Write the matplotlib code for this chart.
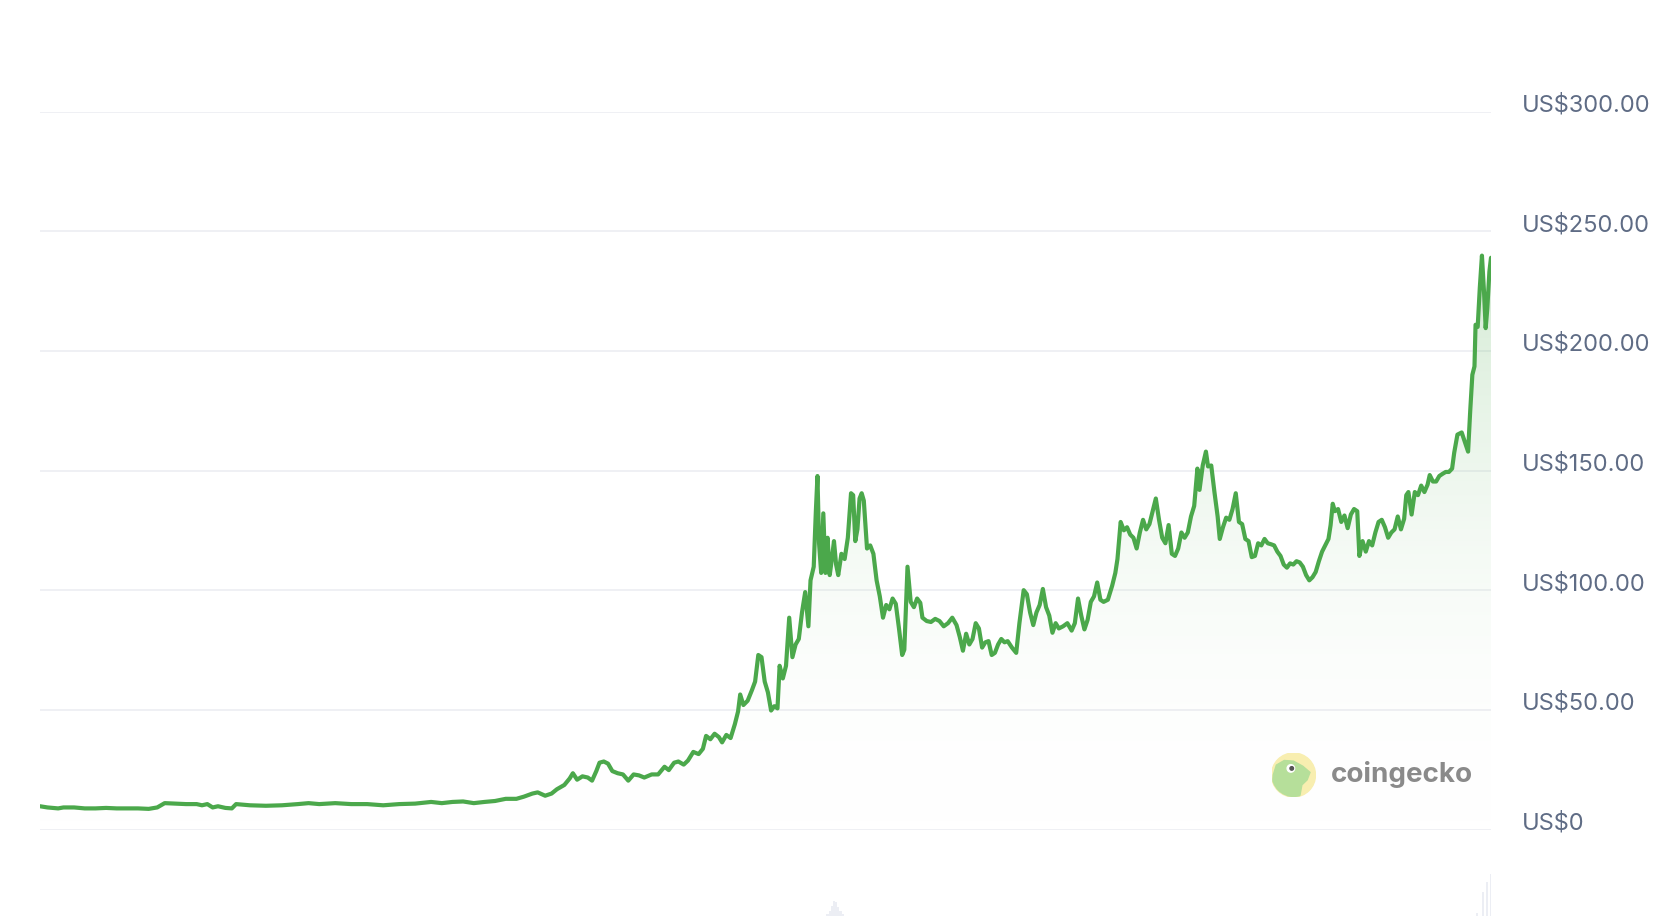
import numpy as np
import matplotlib.pyplot as plt
import matplotlib.transforms as mtransforms
from matplotlib.colors import LinearSegmentedColormap
from matplotlib.patches import Circle, Polygon

# price history (days from start, USD)
day = [0, 7, 17, 22, 32, 42, 52, 62, 72, 82, 92, 102, 110, 117, 127, 137, 147, 152, 157,
       162, 167, 174, 180, 184, 197, 212, 227, 242, 252, 262, 277, 292, 307, 322, 337, 352,
       367, 377, 387, 397, 407, 417, 427, 437, 447, 454, 462, 467, 474, 480, 485, 492, 497,
       500, 504, 509, 514, 518, 522, 525, 529, 533, 537, 542, 547, 552, 557, 562, 567, 574,
       580, 586, 590, 595, 599, 604, 608, 613, 618, 622, 625, 629, 633, 637, 640, 644, 648,
       652, 655, 657, 660, 664, 668, 671, 674, 677, 680, 683, 686, 689, 692, 694, 697, 700,
       703, 706, 709, 712, 715, 718, 721, 723, 726, 728, 729.5, 731, 733, 735, 737, 739, 741,
       743, 745, 747, 749, 752, 755, 758, 761, 763, 765, 767, 769, 771, 773, 776, 779, 782,
       785, 788, 791, 794, 797, 800, 803, 806, 809, 811, 814, 817, 820, 823, 826, 828, 832,
       836, 840, 844, 848, 852, 856, 860, 863, 866, 869, 872, 875, 878, 881, 884, 887, 890,
       893, 896, 899, 902, 905, 908, 912, 916, 919, 923, 926, 929, 932, 935, 938, 941, 944,
       947, 950, 953, 956, 960, 964, 968, 971, 974, 977, 980, 983, 986, 989, 992, 995, 998,
       1002, 1006, 1009, 1011, 1014, 1017, 1020, 1023, 1026, 1029, 1032, 1035, 1038, 1041,
       1044, 1047, 1050, 1053, 1056, 1059, 1062, 1065, 1068, 1071, 1074, 1077, 1080, 1083,
       1086, 1088, 1091, 1094, 1096, 1099, 1102, 1105, 1107, 1110, 1113, 1116, 1119, 1122,
       1125, 1128, 1131, 1134, 1137, 1140, 1143, 1146, 1149, 1152, 1155, 1158, 1161, 1164,
       1167, 1170, 1173, 1176, 1179, 1182, 1185, 1188, 1191, 1194, 1197, 1200, 1203, 1206,
       1209, 1211, 1213, 1215, 1218, 1221, 1224, 1227, 1230, 1233, 1236, 1238, 1241, 1244,
       1247, 1250, 1253, 1256, 1259, 1262, 1265, 1268, 1271, 1274, 1277, 1280, 1282, 1284,
       1287, 1290, 1293, 1296, 1299, 1302, 1304, 1307, 1310, 1313, 1316, 1319, 1322, 1325,
       1327, 1330, 1334, 1337, 1340, 1342, 1344, 1346, 1347, 1349, 1351, 1353, 1355, 1356.5,
       1358, 1360, 1361.5]
price = [9.8, 9.3, 8.9, 9.3, 9.3, 8.9, 8.9, 9.1, 8.9, 8.9, 8.9, 8.7, 9.3, 11.1, 10.9, 10.7,
         10.7, 10.2, 10.7, 9.3, 9.8, 9.1, 8.9, 10.7, 10.2, 10.0, 10.2, 10.7, 11.1, 10.7, 11.1,
         10.7, 10.7, 10.2, 10.7, 10.9, 11.6, 11.1, 11.6, 11.8, 11.1, 11.6, 12.0, 12.9, 12.9,
         13.8, 15.1, 15.6, 14.2, 15.1, 16.9, 18.7, 21.4, 23.6, 20.9, 22.3, 21.8, 20.5, 24.5,
         28.0, 28.5, 27.6, 24.5, 23.6, 23.1, 20.5, 23.1, 22.7, 21.8, 23.1, 23.1, 26.3, 24.9,
         28.0, 28.5, 27.2, 28.9, 32.5, 31.6, 33.8, 39.2, 37.8, 40.1, 38.7, 36.5, 39.6, 38.3,
         44.1, 49.4, 56.5, 52.1, 53.9, 58.3, 61.9, 73.0, 72.1, 61.9, 57.4, 49.8, 51.6, 50.7,
         68.5, 63.2, 68.5, 88.6, 72.1, 77.4, 79.7, 90.8, 99.3, 85.0, 104.2, 109.9, 133.1,
         147.8, 119.7, 107.3, 132.2, 107.3, 122.0, 106.4, 113.1, 120.6, 110.8, 106.4, 115.3,
         113.1, 122.0, 140.6, 139.8, 120.6, 125.5, 138.4, 140.6, 137.5, 117.5, 118.8, 115.3,
         104.2, 97.5, 88.6, 93.9, 92.1, 96.6, 94.4, 84.1, 73.0, 75.2, 109.9, 95.2, 93.0, 96.6,
         94.8, 88.6, 87.2, 86.8, 88.1, 87.2, 85.0, 86.3, 88.6, 85.5, 80.6, 74.8, 81.9, 77.4,
         79.7, 86.3, 84.1, 76.1, 78.3, 78.8, 73.0, 73.9, 77.4, 79.7, 78.3, 78.8, 76.1, 73.9,
         86.3, 100.1, 98.4, 90.8, 85.5, 90.8, 93.9, 100.6, 93.0, 89.5, 82.3, 86.3, 84.1, 85.0,
         86.3, 83.2, 86.3, 96.6, 89.5, 83.7, 87.7, 95.2, 97.5, 103.3, 96.1, 95.2, 96.1, 101.9,
         107.3, 113.1, 128.6, 125.1, 126.4, 123.3, 122.0, 117.5, 124.2, 129.5, 125.5, 127.7,
         133.1, 138.4, 129.5, 122.0, 119.7, 127.3, 115.3, 114.4, 117.5, 124.2, 122.0, 124.2,
         130.9, 135.3, 150.9, 142.0, 152.2, 158.0, 151.8, 152.2, 141.1, 130.9, 121.5, 126.4,
         130.4, 129.5, 134.0, 140.6, 128.6, 127.7, 121.5, 120.6, 113.9, 114.4, 119.7, 118.8,
         121.5, 119.7, 119.3, 118.8, 116.2, 114.4, 110.8, 109.5, 111.3, 110.8, 112.2, 111.7,
         109.9, 106.4, 104.2, 105.5, 107.7, 112.2, 116.2, 118.8, 121.5, 127.3, 136.2, 133.1,
         134.0, 128.6, 131.3, 126.0, 131.7, 134.0, 133.1, 114.4, 120.6, 116.2, 120.6, 118.8,
         124.2, 128.6, 129.5, 126.4, 122.0, 124.2, 125.5, 130.9, 125.5, 129.9, 139.8, 141.1,
         131.7, 141.1, 139.8, 143.8, 141.1, 144.2, 148.2, 145.5, 145.5, 147.8, 148.7, 149.5,
         149.5, 150.9, 157.6, 165.1, 166.0, 162.0, 158.0, 175.0, 190.1, 193.6, 211.0, 210.1,
         226.5, 239.9, 224.3, 209.6, 217.6, 233.2, 239.0]

# the few volume bars that show above the bottom edge
vol_day = [739, 741, 743, 745, 747, 749, 751, 753, 1348.6, 1354, 1358, 1361.7]
vol_value = [2, 5, 10, 15, 14, 9, 5, 2, 3, 24, 34, 42]

tick_values = [0, 50, 100, 150, 200, 250, 300]
tick_labels = ['US$0', 'US$50.00', 'US$100.00', 'US$150.00', 'US$200.00', 'US$250.00', 'US$300.00']

W, H = 1670, 916
fig = plt.figure(figsize=(W / 100, H / 100), dpi=100)
fig.patch.set_facecolor('white')

y0, y300 = 829.7, 111.8
ax = fig.add_axes([40 / W, 1 - y0 / H, 1451 / W, (y0 - y300) / H])
ax.axis('off')

for v in tick_values:
    ax.axhline(v, color='#eeeff3', lw=1.3, zorder=0)

# gradient fill under the line
fill = ax.fill_between(day, price, 0, color='none', lw=0)
grad = np.linspace(0, 1, 256).reshape(-1, 1)
cmap = LinearSegmentedColormap.from_list('g', [(1, 1, 1, 0), (0.36, 0.70, 0.36, 0.27)])
im = ax.imshow(grad, extent=[0, max(day), 0, max(price)], origin='lower',
               aspect='auto', cmap=cmap, zorder=1, interpolation='bilinear')
im.set_clip_path(fill.get_paths()[0], transform=ax.transData)

ax.plot(day, price, color='#4ba84b', lw=3.0, solid_joinstyle='round',
        solid_capstyle='round', zorder=3)

ax.set_xlim(0, max(day))
ax.set_ylim(0, 300)

# right-hand price labels
trans = mtransforms.blended_transform_factory(fig.transFigure, ax.transData)
trans = trans + mtransforms.ScaledTranslation(0, 0.065, fig.dpi_scale_trans)
for v, lab in zip(tick_values, tick_labels):
    ax.text(1522 / W, v, lab, transform=trans, ha='left', va='center',
            fontsize=17, color='#5f6c85', family='Inter', clip_on=False)

# faint volume strip at the bottom
vax = fig.add_axes([40 / W, 0, 1451 / W, 46 / H])
vax.axis('off')
vax.bar(vol_day, vol_value, width=2.2, color='#eceef4', lw=0)
vax.set_xlim(0, max(day))
vax.set_ylim(0, 46)

# coingecko watermark
lax = fig.add_axes([1271.5 / W, 1 - 797 / H, 44 / W, 44 / H])
lax.set_xlim(-1, 1)
lax.set_ylim(-1, 1)
lax.set_aspect('equal')
lax.axis('off')
disk = Circle((0, 0), 1, color='#f8eeb0', zorder=1)
lax.add_patch(disk)
gecko = Polygon([(-1.0, -1.0), (-0.92, 0.0), (-0.78, 0.45), (-0.42, 0.66), (0.0, 0.63),
                 (0.42, 0.4), (0.75, 0.12), (0.62, -0.22), (0.38, -0.45), (0.28, -1.0)],
                closed=True, color='#b6df9a', zorder=2)
lax.add_patch(gecko)
gecko.set_clip_path(disk)
lax.add_patch(Circle((-0.12, 0.3), 0.17, color='white', zorder=3))
lax.add_patch(Circle((-0.08, 0.3), 0.08, color='#555555', zorder=4))

fig.text(1331 / W, 1 - 781.5 / H, 'coingecko', ha='left', va='baseline',
         fontsize=20, fontweight='bold', color='#8a8a8a', family='Inter')

fig.savefig('out.png', dpi=100, facecolor='white')
